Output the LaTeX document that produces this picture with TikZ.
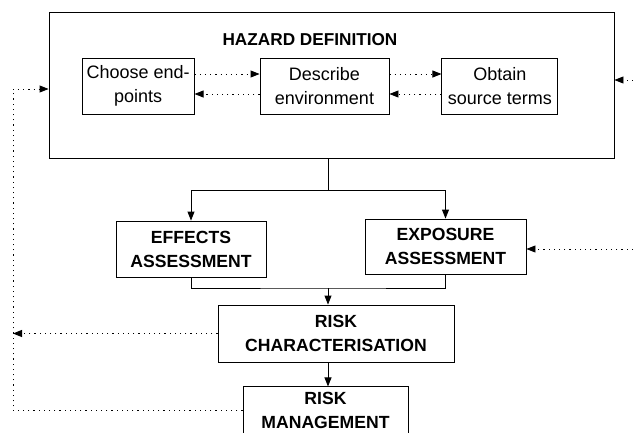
\documentclass[tikz,border=0pt]{standalone}
\usepackage{fontspec}
\setmainfont{Liberation Sans}
\usetikzlibrary{arrows.meta,positioning}

\begin{document}
\begin{tikzpicture}[x=1pt,y=-1pt,line width=0.9pt,
   font=\fontsize{18}{24}\selectfont,
   box/.style={draw,align=center,inner sep=0pt,minimum height=56pt},
   stage/.style={box,font=\fontsize{17.6}{24}\selectfont\bfseries},
   flow/.style={-{Triangle[length=9pt,width=7pt]}},
   fb/.style={flow,dash pattern=on 1.2pt off 4pt}]
  \useasboundingbox (0,0) rectangle (633,432);
  \clip (0,0) rectangle (633,432);
  % hazard definition block
  \node[draw,minimum width=565pt,minimum height=146pt] (hz) at (331.5,85) {};
  \node[font=\fontsize{17.2}{24}\selectfont\bfseries] (title) at (310,40) {HAZARD DEFINITION};
  \node[box,minimum width=129pt] (env) at (324.5,86) {Describe\\environment};
  \node[box,minimum width=112pt,left=65pt of env] (ends) {Choose end-\\points};
  \node[box,minimum width=116pt,right=52pt of env] (src) {Obtain\\source terms};
  \draw[fb] ([yshift=12pt]ends.east) -- ([yshift=12pt]env.west);
  \draw[fb] ([yshift=-8pt]env.west) -- ([yshift=-8pt]ends.east);
  \draw[fb] ([yshift=12pt]env.east) -- ([yshift=12pt]src.west);
  \draw[fb] ([yshift=-8pt]src.west) -- ([yshift=-8pt]env.east);
  % assessment and risk stages
  \node[stage,minimum width=150pt] (eff) at (191,249) {EFFECTS\\ASSESSMENT};
  \node[stage,minimum width=161pt,minimum height=55pt] (exp) at (445.5,246.5) {EXPOSURE\\ASSESSMENT};
  \node[stage,minimum width=236pt,minimum height=57pt] (rc) at (336,333.5) {RISK\\CHARACTERISATION};
  \node[stage,minimum width=165pt,minimum height=48pt,below=24pt of rc,xshift=-10.5pt] (rm) {RISK\\MANAGEMENT};
  \coordinate (sp) at (328,190);
  \coordinate (jn) at (328,288);
  \draw (hz.south -| sp) -- (sp);
  \draw[flow] (sp) -| (eff.north);
  \draw[flow] (sp) -| (exp.north);
  \draw (eff.south) |- (jn) -| (exp.south);
  \draw[flow] (jn) -- (jn |- rc.north);
  \draw[flow] (rc.south -| jn) -- (rm.north -| jn);
  % feedback loops
  \coordinate (lp) at (13,89);
  \draw[fb] (rm.west) -| (lp) -- (lp -| hz.west);
  \draw[fb] (rc.west) -- (rc.west -| lp);
  \coordinate (inhz) at (633,80);
  \coordinate (inexp) at (633,249);
  \draw[fb] (inhz) -- (inhz -| hz.east);
  \draw[fb] (inexp) -- (inexp -| exp.east);
\end{tikzpicture}
\end{document}
